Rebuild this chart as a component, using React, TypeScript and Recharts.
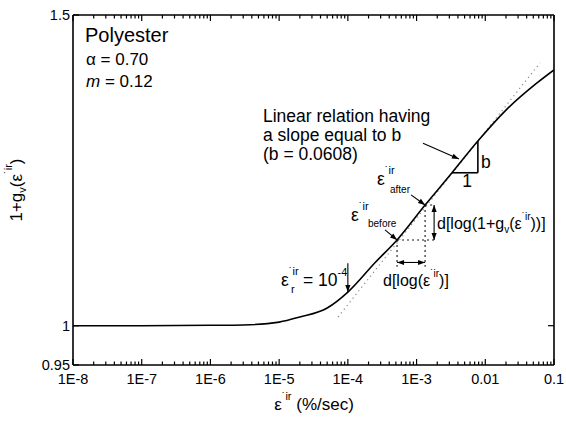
import { LineChart, Line, XAxis, YAxis, ReferenceLine } from 'recharts';

const FONT = '"Liberation Sans", Arial, Helvetica, sans-serif';

// irreversible strain rate (%/sec) against 1+g_v
const rate = [1e-8, 1e-7, 1e-6, 3e-6, 1e-5, 2e-5, 5e-5, 1e-4, 2.5e-4, 5.2e-4, 1.33e-3, 3.28e-3, 7.8e-3, 0.02, 0.0566, 0.1];
const gv = [1.0, 1.0, 1.0005, 1.001, 1.0047, 1.0114, 1.0234, 1.0449, 1.086, 1.1184, 1.1705, 1.2209, 1.2725, 1.325, 1.3728, 1.3963];

// straight line (slope b) drawn dotted
const tangentRate = [7.2e-5, 0.0625];
const tangentGv = [1.0114, 1.4091];

const majorTicks = [1e-8, 1e-7, 1e-6, 1e-5, 1e-4, 1e-3, 0.01, 0.1];
const majorLabels = ['1E-8', '1E-7', '1E-6', '1E-5', '1E-4', '1E-3', '0.01', '0.1'];
const yTicks = [0.95, 1, 1.5];
const yLabels = ['0.95', '1', '1.5'];

// annotation anchors
const iRef = 7; // 1e-4 reference rate
const iBefore = 9;
const iAfter = 10;
const iTriA = 11;
const iTriB = 12;
const dotFloor = 1.08;
const dotRight = 1.85e-3;
const dArrowRate = 1.8e-3;
const dArrowGv = 1.086;
const refArrowTop = 1.085;
const beforeFrom = { x: 3.47e-4, y: 1.1331 };
const afterFrom = { x: 8.3e-4, y: 1.1861 };
const slopeFrom = { x: 1.24e-3, y: 1.2689 };
const slopeTo = { x: 4.14e-3, y: 1.243 };

const curve = rate.map((x, i) => ({ x, y: gv[i] }));
const tangent = tangentRate.map((x, i) => ({ x, y: tangentGv[i] }));

const minorTicks: number[] = [];
for (let e = -8; e < -1; e++) {
  for (let m = 2; m <= 9; m++) minorTicks.push(parseFloat(`${m}e${e}`));
}
const xTicks = [...majorTicks, ...minorTicks].sort((a, b) => a - b);

const BottomTick = (p: any) => {
  const { x, y, payload } = p;
  const k = majorTicks.indexOf(payload.value);
  const len = k >= 0 ? 6 : 3.5;
  return (
    <g>
      <line x1={x} y1={y} x2={x} y2={y - len} stroke="#000" strokeWidth={1.2} />
      {k >= 0 && (
        <text x={x} y={y + 19} textAnchor="middle" fontSize={14.5} fontFamily={FONT} fill="#000">
          {majorLabels[k]}
        </text>
      )}
    </g>
  );
};

const TopTick = (p: any) => {
  const { x, y, payload } = p;
  const len = majorTicks.includes(payload.value) ? 6 : 3.5;
  return <line x1={x} y1={y} x2={x} y2={y + len} stroke="#000" strokeWidth={1.2} />;
};

const LeftTick = (p: any) => {
  const { x, y, payload } = p;
  const k = yTicks.indexOf(payload.value);
  return (
    <g>
      <line x1={x} y1={y} x2={x + 6} y2={y} stroke="#000" strokeWidth={1.2} />
      <text x={x - 3} y={y} dy="0.36em" textAnchor="end" fontSize={14.5} fontFamily={FONT} fill="#000">
        {yLabels[k]}
      </text>
    </g>
  );
};

const RightTick = (p: any) => {
  const { x, y } = p;
  return <line x1={x} y1={y} x2={x - 6} y2={y} stroke="#000" strokeWidth={1.2} />;
};

function arrowShape(both: boolean) {
  return (p: any) => {
    const { x1, y1, x2, y2 } = p;
    const head = (tx: number, ty: number, fx: number, fy: number) => {
      const a = Math.atan2(ty - fy, tx - fx);
      const L = 7;
      const W = 2.6;
      const bx = tx - L * Math.cos(a);
      const by = ty - L * Math.sin(a);
      const pts = `${tx},${ty} ${bx + W * Math.sin(a)},${by - W * Math.cos(a)} ${bx - W * Math.sin(a)},${by + W * Math.cos(a)}`;
      return <polygon points={pts} fill="#000" />;
    };
    return (
      <g>
        <line x1={x1} y1={y1} x2={x2} y2={y2} stroke="#000" strokeWidth={1.1} />
        {head(x2, y2, x1, y1)}
        {both && head(x1, y1, x2, y2)}
      </g>
    );
  };
}

const dotted = { stroke: '#111', strokeWidth: 1.1, strokeDasharray: '2 3' };

const txt = { fontFamily: FONT, fill: '#000' };

export default function App() {
  const pBefore = { x: rate[iBefore], y: gv[iBefore] };
  const pAfter = { x: rate[iAfter], y: gv[iAfter] };
  return (
    <div style={{ position: 'fixed', left: 0, top: 0, width: 566, height: 423, background: '#fff' }}>
      <LineChart width={566} height={423} margin={{ top: 14, right: 11, bottom: 0, left: 0 }}>
        <XAxis
          xAxisId={0}
          dataKey="x"
          type="number"
          scale="log"
          domain={[1e-8, 0.1]}
          allowDataOverflow
          ticks={xTicks}
          interval={0}
          height={58}
          tickSize={0}
          tickMargin={0}
          tickLine={false}
          tick={BottomTick}
          axisLine={{ stroke: '#000', strokeWidth: 1.6 }}
        />
        <XAxis
          xAxisId="top"
          orientation="top"
          dataKey="x"
          type="number"
          scale="log"
          domain={[1e-8, 0.1]}
          allowDataOverflow
          ticks={xTicks}
          interval={0}
          height={1}
          tickSize={0}
          tickMargin={0}
          tickLine={false}
          tick={TopTick}
          axisLine={{ stroke: '#000', strokeWidth: 1.6 }}
        />
        <YAxis
          yAxisId={0}
          type="number"
          scale="log"
          domain={[0.95, 1.5]}
          allowDataOverflow
          ticks={yTicks}
          interval={0}
          width={73}
          tickSize={0}
          tickMargin={0}
          tickLine={false}
          tick={LeftTick}
          axisLine={{ stroke: '#000', strokeWidth: 1.6 }}
        />
        <YAxis
          yAxisId="right"
          orientation="right"
          type="number"
          scale="log"
          domain={[0.95, 1.5]}
          allowDataOverflow
          ticks={[1]}
          interval={0}
          width={1}
          tickSize={0}
          tickMargin={0}
          tickLine={false}
          tick={RightTick}
          axisLine={{ stroke: '#000', strokeWidth: 1.6 }}
        />
        {/* invisible copy so the top and right frame axes get their ticks */}
        <Line
          data={curve}
          dataKey="y"
          xAxisId="top"
          yAxisId="right"
          stroke="none"
          dot={false}
          activeDot={false}
          isAnimationActive={false}
        />
        <Line
          data={tangent}
          dataKey="y"
          type="linear"
          stroke="#888"
          strokeWidth={1.2}
          strokeDasharray="1.2 3.5"
          dot={false}
          activeDot={false}
          isAnimationActive={false}
        />
        <Line
          data={curve}
          dataKey="y"
          type="monotone"
          stroke="#000"
          strokeWidth={1.6}
          dot={false}
          activeDot={false}
          isAnimationActive={false}
        />
        {/* construction for the local slope */}
        <ReferenceLine segment={[pBefore, { x: pBefore.x, y: dotFloor }]} {...dotted} />
        <ReferenceLine segment={[pAfter, { x: pAfter.x, y: dotFloor }]} {...dotted} />
        <ReferenceLine segment={[pBefore, { x: dotRight, y: pBefore.y }]} {...dotted} />
        <ReferenceLine segment={[pAfter, { x: dotRight, y: pAfter.y }]} {...dotted} />
        <ReferenceLine
          segment={[{ x: dArrowRate, y: pAfter.y }, { x: dArrowRate, y: pBefore.y }]}
          shape={arrowShape(true)}
        />
        <ReferenceLine
          segment={[{ x: pBefore.x, y: dArrowGv }, { x: pAfter.x, y: dArrowGv }]}
          shape={arrowShape(true)}
        />
        {/* pointers */}
        <ReferenceLine segment={[{ x: rate[iRef], y: refArrowTop }, { x: rate[iRef], y: gv[iRef] }]} shape={arrowShape(false)} />
        <ReferenceLine segment={[beforeFrom, pBefore]} shape={arrowShape(false)} />
        <ReferenceLine segment={[afterFrom, pAfter]} shape={arrowShape(false)} />
        <ReferenceLine segment={[slopeFrom, slopeTo]} shape={arrowShape(false)} />
        {/* slope triangle */}
        <ReferenceLine
          segment={[{ x: rate[iTriA], y: gv[iTriA] }, { x: rate[iTriB], y: gv[iTriA] }]}
          stroke="#000"
          strokeWidth={1.6}
        />
        <ReferenceLine
          segment={[{ x: rate[iTriB], y: gv[iTriA] }, { x: rate[iTriB], y: gv[iTriB] }]}
          stroke="#000"
          strokeWidth={1.6}
        />
      </LineChart>

      <svg width={566} height={423} style={{ position: 'absolute', left: 0, top: 0, pointerEvents: 'none' }}>
        <g {...txt}>
          <text x={85} y={42} fontSize={20}>Polyester</text>
          <text x={86} y={65} fontSize={17}>α = 0.70</text>
          <text x={86} y={87} fontSize={17}>
            <tspan fontStyle="italic">m</tspan> = 0.12
          </text>

          <text x={263} y={122} fontSize={17.5}>Linear relation having</text>
          <text x={263} y={141} fontSize={17.5}>a slope equal to b</text>
          <text x={263} y={160} fontSize={17.5}>(b = 0.0608)</text>
          <text x={467} y={187} fontSize={17.5} textAnchor="middle">1</text>
          <text x={481} y={168} fontSize={17.5}>b</text>

          {/* reference rate */}
          <text x={281} y={286} fontSize={17.5}>
            ε<tspan fontSize={11} dy={-11}>˙ir</tspan>
          </text>
          <text x={291} y={293} fontSize={11}>r</text>
          <text x={303} y={286} fontSize={17.5}>
            = 10<tspan fontSize={11} dy={-10}>-4</tspan>
          </text>

          <text x={351} y={221} fontSize={17.5}>
            ε<tspan fontSize={11} dy={-11}>˙ir</tspan>
          </text>
          <text x={368} y={227} fontSize={10}>before</text>

          <text x={377} y={185} fontSize={17.5}>
            ε<tspan fontSize={11} dy={-11}>˙ir</tspan>
          </text>
          <text x={390} y={193} fontSize={10}>after</text>

          <text x={437} y={229} fontSize={16}>
            d[log(1+g<tspan fontSize={10} dy={4}>v</tspan>
            <tspan fontSize={16} dy={-4}>(ε</tspan>
            <tspan fontSize={10} dy={-9}>˙ir</tspan>
            <tspan fontSize={16} dy={9}>))]</tspan>
          </text>
          <text x={383} y={286} fontSize={16}>
            d[log(ε<tspan fontSize={10} dy={-9}>˙ir</tspan>
            <tspan fontSize={16} dy={9}>)]</tspan>
          </text>

          {/* axis titles */}
          <text x={314} y={410} fontSize={17} textAnchor="middle">
            ε<tspan fontSize={11} dy={-10}>˙ir</tspan>
            <tspan fontSize={17} dy={10}> (%/sec)</tspan>
          </text>
          <text x={0} y={0} fontSize={17} textAnchor="middle" transform="translate(22,190) rotate(-90)">
            1+g<tspan fontSize={11} dy={4}>v</tspan>
            <tspan fontSize={17} dy={-4}>(ε</tspan>
            <tspan fontSize={11} dy={-10}>˙ir</tspan>
            <tspan fontSize={17} dy={10}>)</tspan>
          </text>
        </g>
      </svg>
    </div>
  );
}
